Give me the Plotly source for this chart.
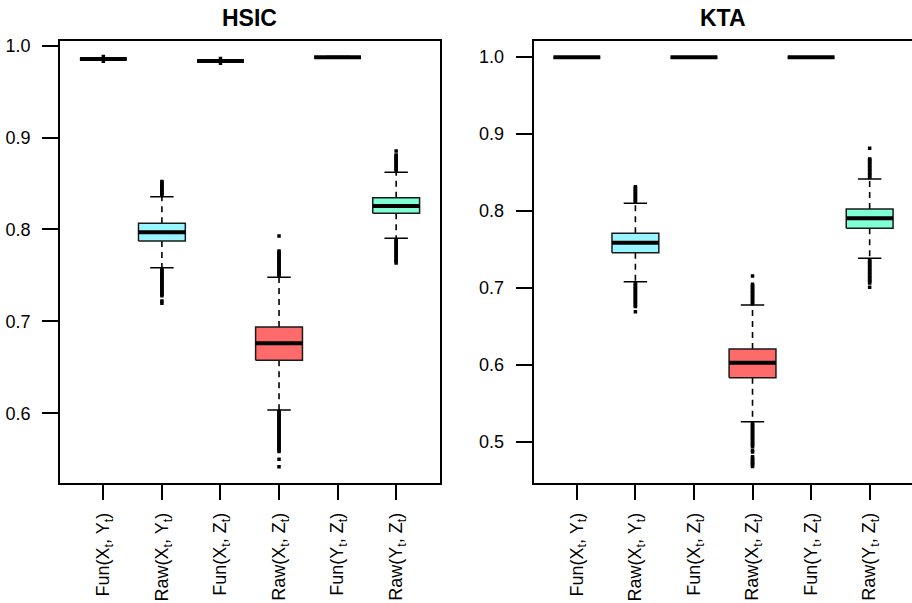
import plotly.graph_objects as go

# ---------------- data ----------------
categories = ["Fun(X<sub>t</sub>, Y<sub>t</sub>)", "Raw(X<sub>t</sub>, Y<sub>t</sub>)",
              "Fun(X<sub>t</sub>, Z<sub>t</sub>)", "Raw(X<sub>t</sub>, Z<sub>t</sub>)",
              "Fun(Y<sub>t</sub>, Z<sub>t</sub>)", "Raw(Y<sub>t</sub>, Z<sub>t</sub>)"]
positions = [1, 2, 3, 4, 5, 6]
box_colors = ["white", "#98F5FF", "white", "#FF6A6A", "white", "#7FFFD4"]

# HSIC panel
hsic_q1 = [0.9853, 0.7875, 0.9831, 0.6577, 0.9871, 0.8176]
hsic_median = [0.9856, 0.7970, 0.9834, 0.6762, 0.9874, 0.8256]
hsic_q3 = [0.9859, 0.8068, 0.9837, 0.6939, 0.9877, 0.8346]
hsic_lower = [0.9848, 0.7584, 0.9826, 0.6036, 0.9867, 0.7904]
hsic_upper = [0.9864, 0.8357, 0.9842, 0.7480, 0.9881, 0.8622]
hsic_outliers = [
    [0.9831, 0.9881],
    [0.8375, 0.8390, 0.8405, 0.8420, 0.8435, 0.8450, 0.8465, 0.8480, 0.8495, 0.8510, 0.8522,
     0.7565, 0.7550, 0.7535, 0.7520, 0.7505, 0.7490, 0.7475, 0.7460, 0.7445,
     0.7430, 0.7415, 0.7400, 0.7385, 0.7370, 0.7355, 0.7340, 0.7325, 0.7310,
     0.7295, 0.7280, 0.7222, 0.7198],
    [0.9809, 0.9859],
    [0.7495, 0.7510, 0.7525, 0.7540, 0.7555, 0.7570, 0.7585, 0.7600, 0.7615,
     0.7630, 0.7645, 0.7660, 0.7675, 0.7690, 0.7705, 0.7720, 0.7735, 0.7750,
     0.7765, 0.7929,
     0.6020, 0.6005, 0.5990, 0.5975, 0.5960, 0.5945, 0.5930, 0.5915, 0.5900,
     0.5885, 0.5870, 0.5855, 0.5840, 0.5825, 0.5810, 0.5795, 0.5780, 0.5765,
     0.5750, 0.5735, 0.5720, 0.5705, 0.5690, 0.5675, 0.5660, 0.5645, 0.5630,
     0.5615, 0.5600, 0.5585, 0.5500, 0.5419],
    [],
    [0.8637, 0.8652, 0.8667, 0.8682, 0.8697, 0.8712, 0.8727, 0.8742, 0.8757,
     0.8772, 0.8787, 0.8802, 0.8810, 0.8854,
     0.7889, 0.7874, 0.7859, 0.7844, 0.7829, 0.7814, 0.7799, 0.7784, 0.7769,
     0.7754, 0.7739, 0.7724, 0.7709, 0.7694, 0.7679, 0.7664, 0.7649, 0.7634],
]

# KTA panel
kta_q1 = [0.9989, 0.7455, 0.9989, 0.5831, 0.9989, 0.7771]
kta_median = [0.9992, 0.7585, 0.9992, 0.6026, 0.9992, 0.7901]
kta_q3 = [0.9995, 0.7706, 0.9995, 0.6204, 0.9995, 0.8022]
kta_lower = [0.9985, 0.7078, 0.9985, 0.5260, 0.9985, 0.7382]
kta_upper = [0.9998, 0.8096, 0.9998, 0.6775, 0.9998, 0.8412]
kta_outliers = [
    [],
    [0.8114, 0.8132, 0.8150, 0.8168, 0.8186, 0.8204, 0.8222, 0.8240, 0.8258,
     0.8276, 0.8294, 0.8312,
     0.7060, 0.7042, 0.7024, 0.7006, 0.6988, 0.6970, 0.6952, 0.6934, 0.6916,
     0.6898, 0.6880, 0.6862, 0.6844, 0.6826, 0.6808, 0.6790, 0.6772, 0.6755,
     0.6688],
    [],
    [0.6793, 0.6811, 0.6829, 0.6847, 0.6865, 0.6883, 0.6901, 0.6919, 0.6937,
     0.6955, 0.6973, 0.6991, 0.7009, 0.7027, 0.7044, 0.7152,
     0.5242, 0.5224, 0.5206, 0.5188, 0.5170, 0.5152, 0.5134, 0.5116, 0.5098,
     0.5080, 0.5062, 0.5044, 0.5026, 0.5008, 0.4990, 0.4972, 0.4954, 0.4936,
     0.4885, 0.4867, 0.4805, 0.4787, 0.4769, 0.4751, 0.4733, 0.4715, 0.4697,
     0.4680],
    [],
    [0.8430, 0.8448, 0.8466, 0.8484, 0.8502, 0.8520, 0.8538, 0.8556, 0.8574,
     0.8592, 0.8610, 0.8628, 0.8646, 0.8664, 0.8672, 0.8810,
     0.7364, 0.7346, 0.7328, 0.7310, 0.7292, 0.7274, 0.7256, 0.7238, 0.7220,
     0.7202, 0.7184, 0.7166, 0.7148, 0.7130, 0.7112, 0.7094, 0.7076, 0.7060,
     0.7005],
]

hsic_yticks = [0.6, 0.7, 0.8, 0.9, 1.0]
kta_yticks = [0.5, 0.6, 0.7, 0.8, 0.9, 1.0]

# ---------------- drawing ----------------
HALF = 0.4      # box half width (boxwex 0.8)
STAPLE = 0.2    # staple half width
FONT = "Liberation Sans, Arial, Helvetica, sans-serif"

fig = go.Figure()


def add_panel(q1, med, q3, lo, hi, outs, xa, ya):
    common = dict(xaxis=xa, yaxis=ya, hoverinfo="skip", showlegend=False)
    # whiskers (dashed)
    wx, wy = [], []
    for i, p in enumerate(positions):
        wx += [p, p, None, p, p, None]
        wy += [q3[i], hi[i], None, q1[i], lo[i], None]
    fig.add_trace(go.Scatter(x=wx, y=wy, mode="lines",
                             line=dict(color="black", width=1.6, dash="6px,5px"), **common))
    # staples
    sx, sy = [], []
    for i, p in enumerate(positions):
        sx += [p - STAPLE, p + STAPLE, None, p - STAPLE, p + STAPLE, None]
        sy += [hi[i], hi[i], None, lo[i], lo[i], None]
    fig.add_trace(go.Scatter(x=sx, y=sy, mode="lines",
                             line=dict(color="black", width=1.5), **common))
    # boxes
    for i, p in enumerate(positions):
        fig.add_trace(go.Scatter(
            x=[p - HALF, p + HALF, p + HALF, p - HALF, p - HALF],
            y=[q1[i], q1[i], q3[i], q3[i], q1[i]],
            mode="lines", fill="toself", fillcolor=box_colors[i],
            line=dict(color="#1a1a1a", width=1.5), **common))
    # medians
    mx, my = [], []
    for i, p in enumerate(positions):
        mx += [p - HALF, p + HALF, None]
        my += [med[i], med[i], None]
    fig.add_trace(go.Scatter(x=mx, y=my, mode="lines",
                             line=dict(color="black", width=4), **common))
    # outliers
    ox, oy = [], []
    for i, p in enumerate(positions):
        for v in outs[i]:
            ox.append(p)
            oy.append(v)
    fig.add_trace(go.Scatter(x=ox, y=oy, mode="markers",
                             marker=dict(symbol="square", size=3.5, color="black",
                                         line=dict(width=0)), **common))


add_panel(hsic_q1, hsic_median, hsic_q3, hsic_lower, hsic_upper, hsic_outliers, "x", "y")
add_panel(kta_q1, kta_median, kta_q3, kta_lower, kta_upper, kta_outliers, "x2", "y2")

W, H = 912, 603
ydom = [1 - 482.7 / H, 1 - 40.7 / H]

xcommon = dict(tickmode="array", tickvals=positions, ticktext=categories,
               tickangle=-90, ticks="outside", ticklen=15, tickwidth=1.5,
               tickcolor="black", showline=True, linecolor="black", linewidth=1.6,
               mirror=True, showgrid=False, zeroline=False, automargin=False,
               ticklabelstandoff=6,
               tickfont=dict(family=FONT, size=18, color="black"))
ycommon = dict(tickmode="array", ticks="outside", ticklen=16, tickwidth=1.5,
               tickcolor="black", showline=True, linecolor="black", linewidth=1.6,
               showgrid=False, zeroline=False, automargin=False,
               ticklabelstandoff=8,
               tickfont=dict(family=FONT, size=18, color="black"))

fig.update_layout(
    width=W, height=H,
    margin=dict(l=0, r=0, t=0, b=0),
    paper_bgcolor="white", plot_bgcolor="white",
    showlegend=False,
    xaxis=dict(domain=[60 / W, 439.5 / W], range=[0.26, 6.74], anchor="y", **xcommon),
    yaxis=dict(domain=ydom, range=[0.5245, 1.0054], anchor="x", mirror=True,
               tickvals=hsic_yticks, ticktext=[f"{v:.1f}" for v in hsic_yticks], **ycommon),
    xaxis2=dict(domain=[533.5 / W, 1.0], range=[0.26, 6.723], anchor="y2", **xcommon),
    yaxis2=dict(domain=ydom, range=[0.4468, 1.0208], anchor="x2", mirror=False,
                tickvals=kta_yticks, ticktext=[f"{v:.1f}" for v in kta_yticks], **ycommon),
    annotations=[
        dict(text="<b>HSIC</b>", x=(60 + 439.5) / 2 / W, y=1 - 18 / H, xref="paper", yref="paper",
             showarrow=False, xanchor="center", yanchor="middle",
             font=dict(family=FONT, size=23, color="black")),
        dict(text="<b>KTA</b>", x=(533.5 + 913) / 2 / W, y=1 - 18 / H, xref="paper", yref="paper",
             showarrow=False, xanchor="center", yanchor="middle",
             font=dict(family=FONT, size=23, color="black")),
    ],
)

fig.write_html("out.html")
